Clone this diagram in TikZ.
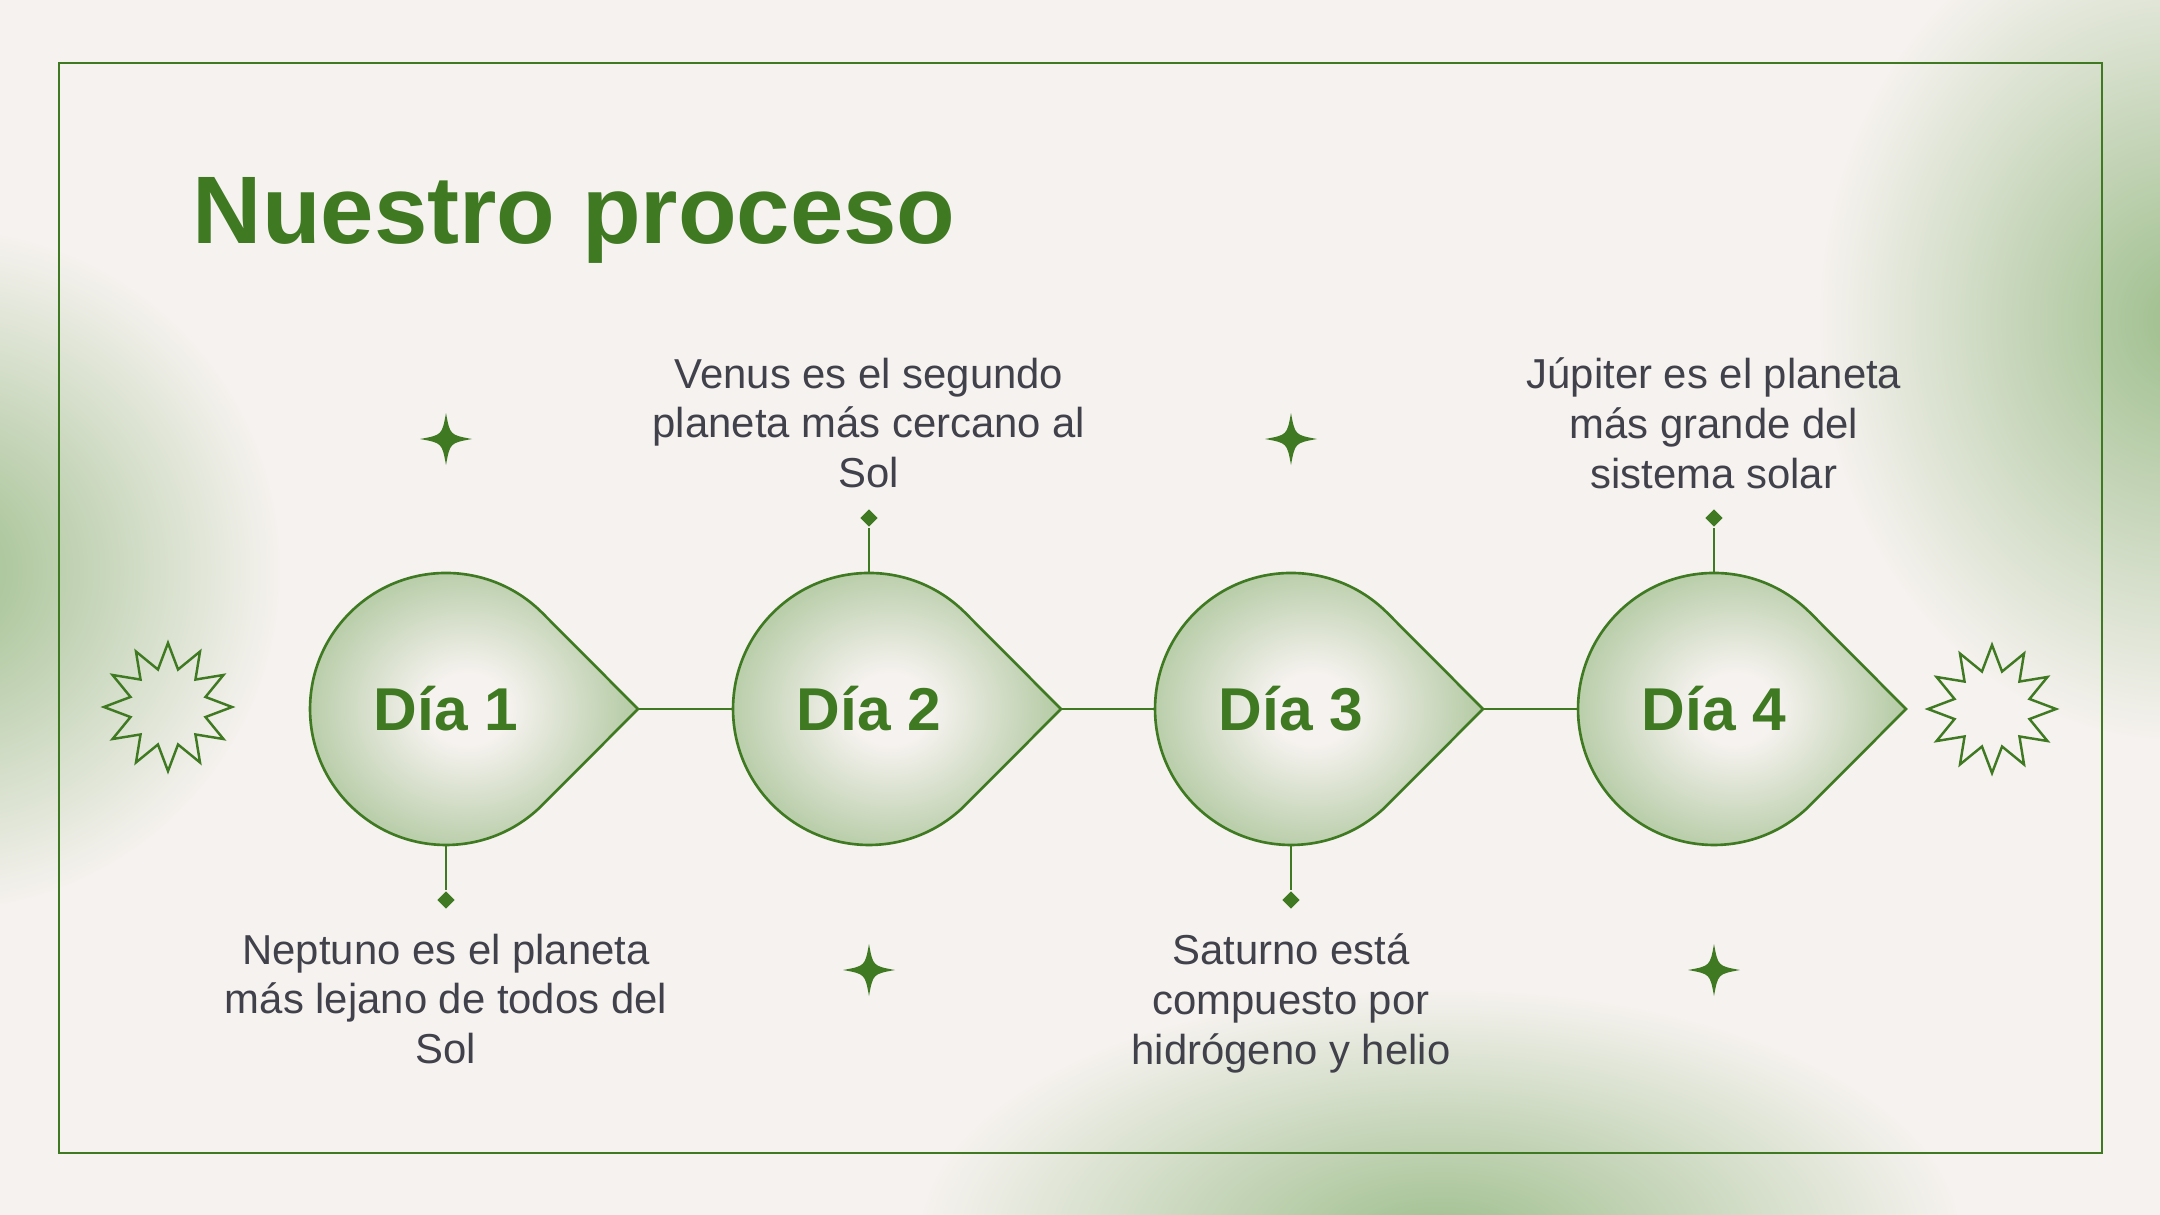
\documentclass[tikz,border=0pt]{standalone}
\usepackage{fontspec}
\setmainfont{Liberation Sans}
\usetikzlibrary{positioning,shapes.geometric,fadings}
\definecolor{leaf}{HTML}{3F7A22}
\definecolor{paper}{HTML}{F6F2EF}
\definecolor{ink}{HTML}{41414B}
\definecolor{sage}{HTML}{B3CAA3}
\definecolor{haze}{HTML}{9FBF8E}
\pgfdeclareradialshading{dropshade}{\pgfpoint{0bp}{0bp}}{%
  color(0bp)=(paper); color(6bp)=(paper); color(25bp)=(sage); color(50bp)=(sage)}
\tikzfading[name=blobfade, inner color=transparent!0, outer color=transparent!100]
\tikzset{
  rim/.style={draw=leaf, line width=0.6pt},
  dropfill/.style={shade, shading=dropshade, draw=leaf, line width=0.75pt},
  ring/.style={circle, minimum size=2.72cm, inner sep=0pt, outer sep=0pt},
  daylabel/.style={text=leaf, font=\fontsize{17.2}{20}\selectfont\bfseries},
  heading/.style={text=leaf, font=\fontsize{27.3}{32}\selectfont\bfseries, inner sep=0pt},
  note/.style={text=ink, align=center, font=\fontsize{11.9}{14.2}\selectfont},
  pin/.style={diamond, fill=leaf, inner sep=0pt, minimum size=0.18cm},
  wire/.style={draw=leaf, line width=0.6pt},
  burst/.style={star, star points=12, star point ratio=1.65, draw=leaf,
    line width=0.7pt, minimum size=1.28cm, inner sep=0pt},
}
\newcommand{\glint}[2]{%
  \fill[leaf, shift={(#1,#2)}] (0,26) .. controls (4,4) .. (26,0)
    .. controls (4,-4) .. (0,-26) .. controls (-4,-4) .. (-26,0)
    .. controls (-4,4) .. (0,26) -- cycle;}

\begin{document}
\begin{tikzpicture}[x=0.01cm, y=0.01cm]
  \useasboundingbox (0,0) rectangle (2160,-1215);
  \fill[paper] (0,0) rectangle (2160,-1215);
  % soft green haze
  \begin{scope}
    \clip (0,0) rectangle (2160,-1215);
    \fill[haze, path fading=blobfade] (-60,-570) ellipse (340 and 340);
    \fill[haze, path fading=blobfade] (2180,-320) ellipse (360 and 420);
    \fill[haze, path fading=blobfade] (1440,-1240) ellipse (520 and 250);
  \end{scope}
  \draw[rim] (59,-63) rectangle (2102,-1153);
  \node[heading, anchor=base west] (head) at (192,-243) {Nuestro proceso};
  % days
  \foreach \i/\x in {1/446,2/869,3/1291,4/1714}{
    \path[dropfill] (\x+192,-709) -- (\x+96.2,-612.8)
      arc[start angle=45, end angle=315, radius=136] -- cycle;
    \node[ring] (c\i) at (\x,-709) {};
    \coordinate (tip\i) at (\x+192,-709);
    \node[daylabel] (d\i) at (\x,-709) {Día \i};
  }
  \draw[wire] (tip1) -- (c2.west);
  \draw[wire] (tip2) -- (c3.west);
  \draw[wire] (tip3) -- (c4.west);
  % pins
  \node[pin] (p1) at (446,-900) {};
  \node[pin] (p2) at (869,-518) {};
  \node[pin] (p3) at (1291,-900) {};
  \node[pin] (p4) at (1714,-518) {};
  \draw[wire] (c1.south) -- (p1);
  \draw[wire] (c2.north) -- (p2);
  \draw[wire] (c3.south) -- (p3);
  \draw[wire] (c4.north) -- (p4);
  % notes
  \node[note] (n1) at (446,-999) {Neptuno es el planeta\\más lejano de todos del\\Sol};
  \node[note] (n2) at (869,-423) {Venus es el segundo\\planeta más cercano al\\Sol};
  \node[note] (n3) at (1291,-1003) {Saturno está\\compuesto por\\hidrógeno y helio};
  \node[note] (n4) at (1714,-423) {Júpiter es el planeta\\más grande del\\sistema solar};
  % decorations
  \node[burst] (s1) at (168,-707) {};
  \node[burst] (s2) at (1992,-709) {};
  \glint{446}{-439}
  \glint{1291}{-439}
  \glint{869}{-970}
  \glint{1714}{-970}
\end{tikzpicture}
\end{document}
